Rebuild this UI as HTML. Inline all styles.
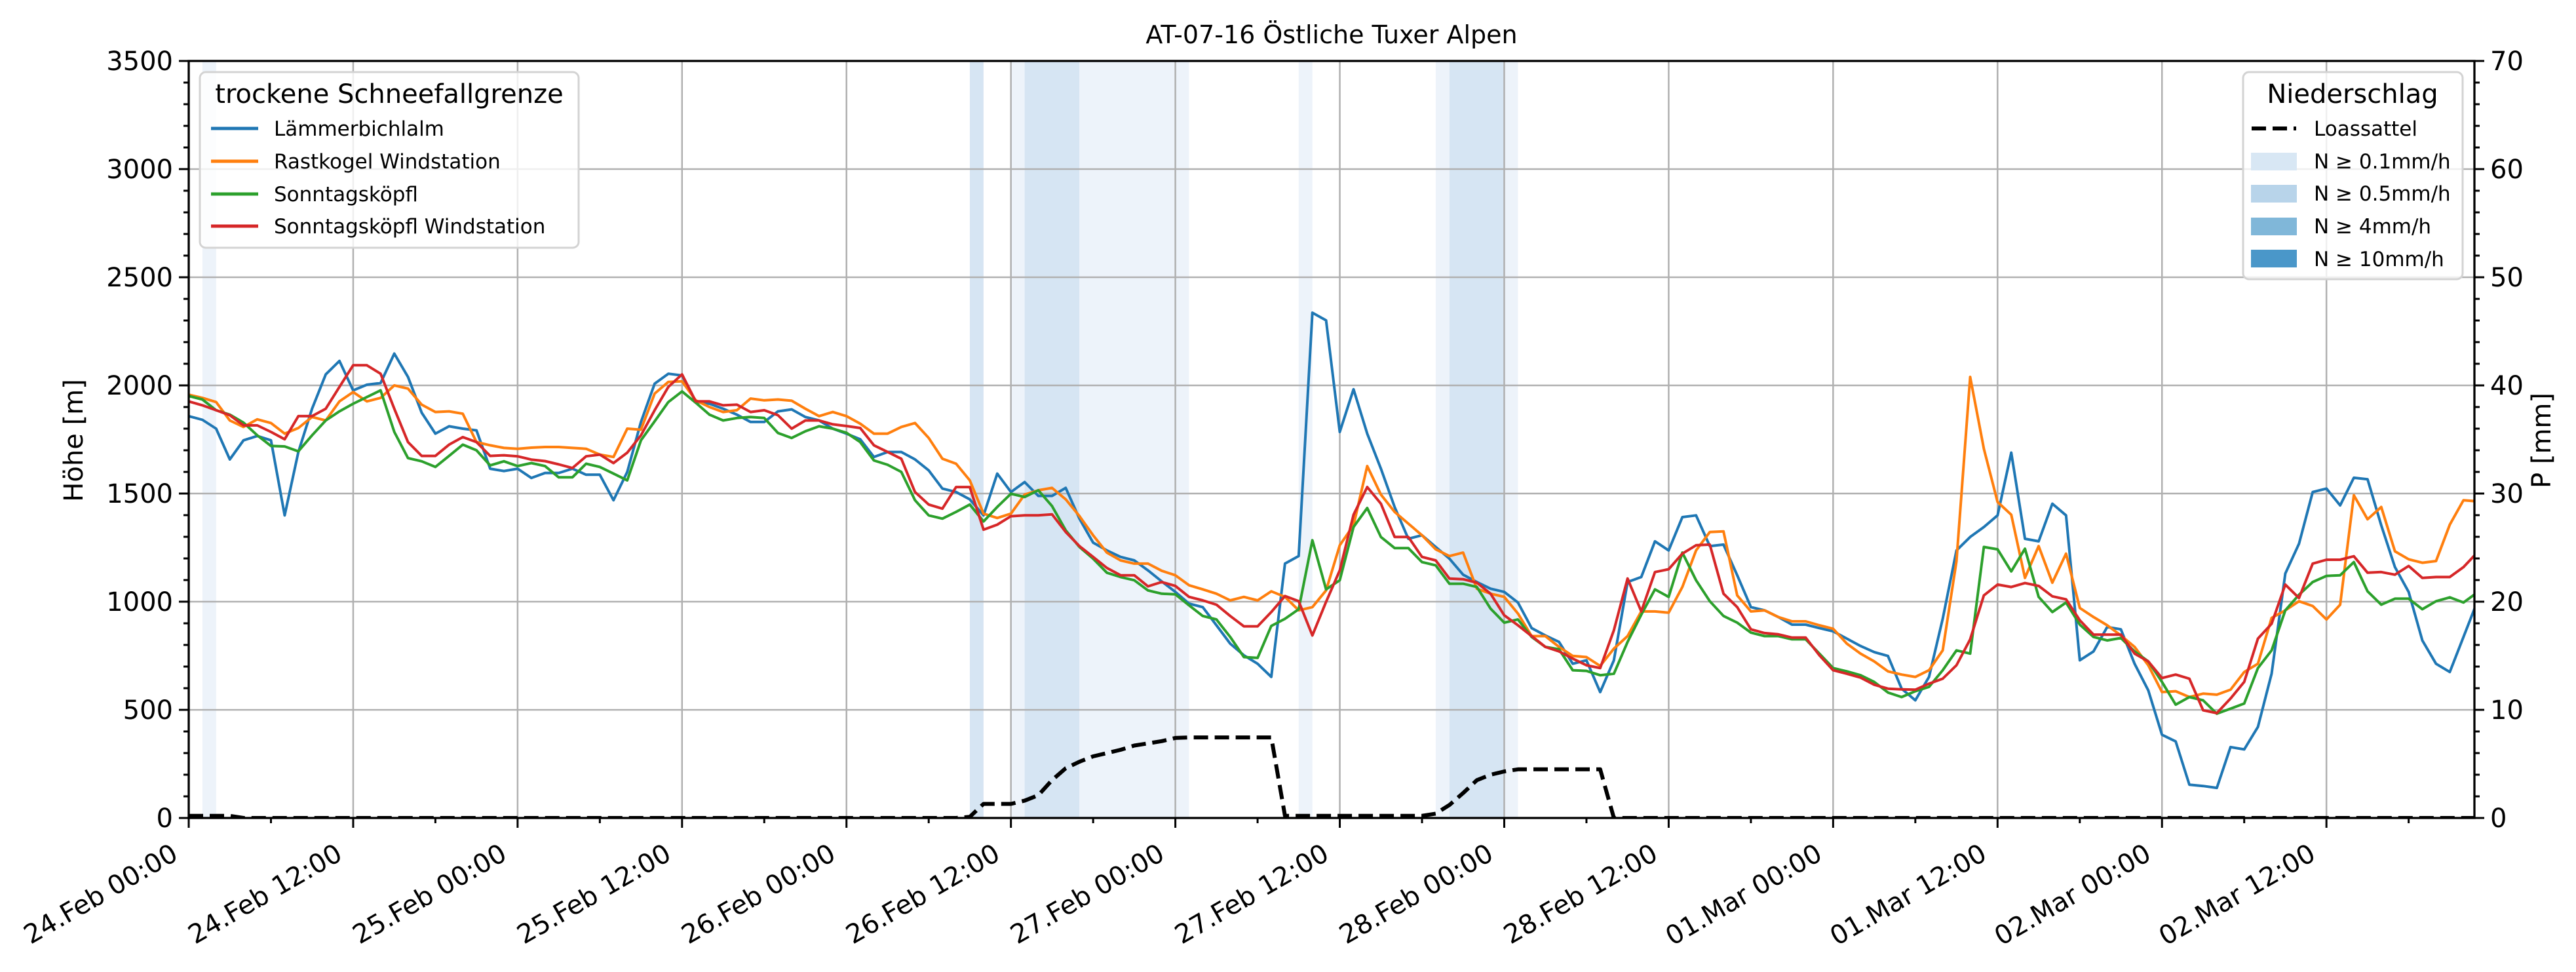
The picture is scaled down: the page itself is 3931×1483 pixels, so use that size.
<!DOCTYPE html>
<html><head><meta charset="utf-8"><style>
html,body{margin:0;padding:0;background:#fff;}
svg{display:block;font-family:"DejaVu Sans","Liberation Sans",sans-serif;}
</style></head><body>
<svg id="chart" width="3931" height="1483" viewBox="0 0 3931 1483" xmlns="http://www.w3.org/2000/svg">
<defs><clipPath id="plotclip"><rect x="288" y="93" width="3488" height="1155"/></clipPath></defs>
<rect width="3931" height="1483" fill="#fff"/>
<g id="bands"></g>
<g id="grid"></g>
<g id="series" clip-path="url(#plotclip)"></g>
<g id="axes"></g>
<text x="2032" y="66" text-anchor="middle" font-size="38">AT-07-16 Östliche Tuxer Alpen</text>
<text transform="translate(126,672) rotate(-90)" text-anchor="middle" font-size="40">Höhe [m]</text>
<text transform="translate(3892,672) rotate(-90)" text-anchor="middle" font-size="40">P [mm]</text>
<g>
<rect x="305" y="110" width="578" height="268" rx="9" fill="#fff" fill-opacity="0.8" stroke="#d3d3d3" stroke-width="3"/>
<text x="594" y="157" text-anchor="middle" font-size="40">trockene Schneefallgrenze</text>
<line x1="322" y1="196" x2="394" y2="196" stroke="#1f77b4" stroke-width="5"/>
<text x="418" y="207" font-size="31">Lämmerbichlalm</text>
<line x1="322" y1="246" x2="394" y2="246" stroke="#ff7f0e" stroke-width="5"/>
<text x="418" y="257" font-size="31">Rastkogel Windstation</text>
<line x1="322" y1="296" x2="394" y2="296" stroke="#2ca02c" stroke-width="5"/>
<text x="418" y="307" font-size="31">Sonntagsköpfl</text>
<line x1="322" y1="345" x2="394" y2="345" stroke="#d62728" stroke-width="5"/>
<text x="418" y="356" font-size="31">Sonntagsköpfl Windstation</text>
</g>
<g>
<rect x="3423" y="110" width="335" height="316" rx="9" fill="#fff" fill-opacity="0.8" stroke="#d3d3d3" stroke-width="3"/>
<text x="3590" y="157" text-anchor="middle" font-size="40">Niederschlag</text>
<line x1="3436" y1="196" x2="3504" y2="196" stroke="#000" stroke-width="6" stroke-dasharray="22,10"/>
<text x="3531" y="207" font-size="31">Loassattel</text>
<rect x="3435" y="233" width="70" height="27" fill="#d8e7f4"/>
<text x="3531" y="257" font-size="31">N ≥ 0.1mm/h</text>
<rect x="3435" y="282" width="70" height="27" fill="#b8d4ea"/>
<text x="3531" y="306" font-size="31">N ≥ 0.5mm/h</text>
<rect x="3435" y="332" width="70" height="27" fill="#80b7d9"/>
<text x="3531" y="356" font-size="31">N ≥ 4mm/h</text>
<rect x="3435" y="381" width="70" height="27" fill="#4a97c9"/>
<text x="3531" y="406" font-size="31">N ≥ 10mm/h</text>
</g>
</svg>
<script>
const lammer=[1858,1841,1800,1658,1746,1766,1746,1399,1692,1892,2051,2113,1977,2003,2011,2147,2039,1874,1777,1811,1800,1792,1615,1604,1615,1572,1595,1595,1615,1587,1587,1469,1600,1831,2008,2054,2046,1923,1915,1892,1865,1831,1831,1880,1889,1854,1838,1800,1777,1751,1669,1692,1692,1658,1607,1523,1507,1473,1399,1592,1507,1553,1489,1489,1526,1384,1273,1237,1207,1191,1145,1094,1045,991,975,891,806,752,713,652,1176,1211,2336,2301,1785,1982,1777,1615,1438,1291,1307,1253,1199,1125,1091,1060,1045,996,878,844,814,713,729,582,729,1091,1114,1279,1237,1391,1399,1257,1264,1122,975,960,929,894,894,878,863,829,795,767,749,598,544,652,921,1237,1299,1345,1399,1689,1291,1279,1453,1399,729,770,883,872,713,590,385,354,154,148,139,328,317,421,667,1130,1268,1507,1523,1445,1573,1566,1353,1160,1045,821,713,675,837,999];
const rastkogel=[1957,1942,1923,1838,1808,1843,1826,1777,1803,1854,1838,1926,1969,1926,1942,2000,1985,1911,1877,1880,1869,1738,1723,1711,1707,1712,1715,1715,1711,1707,1680,1669,1800,1795,1962,2016,2019,1931,1900,1877,1885,1939,1931,1935,1929,1892,1858,1877,1858,1823,1777,1777,1808,1826,1757,1661,1638,1561,1407,1387,1407,1495,1515,1526,1473,1396,1307,1227,1191,1176,1176,1143,1122,1076,1057,1037,1006,1022,1006,1048,1022,960,975,1052,1261,1353,1627,1495,1415,1361,1307,1242,1211,1227,1060,1037,1022,945,841,841,791,749,744,703,783,841,955,955,949,1068,1237,1322,1325,1029,955,960,929,909,909,891,875,806,760,724,678,663,652,683,775,1187,2039,1707,1461,1402,1110,1257,1088,1222,971,929,891,844,791,706,582,586,559,575,570,593,675,713,925,960,1002,980,918,986,1492,1381,1438,1233,1196,1180,1188,1356,1469,1464];
const sonntag=[1951,1935,1885,1865,1828,1769,1720,1718,1695,1769,1838,1880,1915,1946,1977,1785,1664,1649,1623,1674,1726,1700,1630,1649,1627,1641,1627,1575,1575,1638,1623,1592,1561,1746,1834,1923,1972,1920,1865,1838,1849,1854,1849,1780,1757,1788,1811,1800,1781,1738,1653,1633,1600,1469,1399,1384,1415,1449,1371,1438,1499,1484,1515,1442,1330,1253,1199,1134,1114,1099,1052,1037,1034,983,934,918,837,744,740,888,921,965,1284,1057,1099,1345,1433,1299,1248,1248,1183,1168,1083,1083,1068,968,903,918,837,791,780,683,680,660,667,814,940,1057,1022,1227,1099,1002,934,903,857,841,841,826,826,760,693,678,660,629,580,559,586,606,683,775,760,1253,1242,1140,1245,1022,952,996,894,837,821,832,770,724,629,524,559,544,482,505,529,693,775,960,1032,1091,1119,1122,1183,1048,986,1014,1014,965,1002,1020,996,1042];
const sonntagWind=[1926,1908,1885,1862,1815,1815,1785,1751,1858,1858,1892,1993,2093,2093,2054,1892,1738,1674,1674,1726,1761,1738,1674,1677,1672,1657,1650,1635,1618,1672,1680,1641,1689,1769,1885,1993,2051,1926,1926,1908,1911,1877,1885,1862,1800,1838,1838,1820,1812,1803,1723,1692,1661,1507,1449,1430,1530,1530,1333,1356,1395,1399,1399,1404,1322,1257,1207,1156,1122,1122,1071,1091,1073,1022,1006,986,934,886,886,952,1026,1002,844,999,1145,1402,1530,1453,1299,1299,1207,1191,1107,1104,1088,1037,937,891,841,791,770,737,706,693,868,1107,955,1137,1150,1222,1261,1264,1037,975,872,855,849,834,834,752,683,667,649,616,598,595,593,621,644,706,826,1029,1079,1068,1086,1073,1025,1011,914,848,848,848,760,724,647,663,644,498,485,552,629,829,898,1079,1017,1176,1194,1194,1210,1134,1137,1125,1165,1110,1114,1114,1160,1227];
const loassattel=[0.2,0.2,0.2,0.2,0,0,0,0,0,0,0,0,0,0,0,0,0,0,0,0,0,0,0,0,0,0,0,0,0,0,0,0,0,0,0,0,0,0,0,0,0,0,0,0,0,0,0,0,0,0,0,0,0,0,0,0,0,0.1,1.3,1.3,1.3,1.6,2.1,3.5,4.6,5.2,5.7,6.0,6.3,6.7,6.9,7.1,7.4,7.45,7.45,7.45,7.45,7.45,7.45,7.45,0.2,0.2,0.2,0.2,0.2,0.2,0.2,0.2,0.2,0.2,0.2,0.4,1.2,2.3,3.5,4.0,4.3,4.5,4.5,4.5,4.5,4.5,4.5,4.5,0,0,0,0,0,0,0,0,0,0,0,0,0,0,0,0,0,0,0,0,0,0,0,0,0,0,0,0,0,0,0,0,0,0,0,0,0,0,0,0,0,0,0,0,0,0,0,0,0,0,0,0,0,0,0,0,0,0,0,0,0,0,0,0,0,0,0,0,0];
const bandStart=[1,57,60,61,65,81,91,92,96];
const bandEnd=[2,58,61,65,73,82,92,96,97];
const bandLevel=[0,1,0,1,0,0,0,1,0];
const yTicks=[0,500,1000,1500,2000,2500,3000,3500];
const y2Ticks=[0,10,20,30,40,50,60,70];
const xTickHours=[0,12,24,36,48,60,72,84,96,108,120,132,144,156];
const xTickLabels=["24.Feb 00:00","24.Feb 12:00","25.Feb 00:00","25.Feb 12:00","26.Feb 00:00","26.Feb 12:00","27.Feb 00:00","27.Feb 12:00","28.Feb 00:00","28.Feb 12:00","01.Mar 00:00","01.Mar 12:00","02.Mar 00:00","02.Mar 12:00"];

const NS="http://www.w3.org/2000/svg";
const L=288,R=3776,T=93,B=1248,XMAX=166.8,YMAX=3500,PMAX=70;
const X=h=>L+h/XMAX*(R-L);
const Y=v=>B-v/YMAX*(B-T);
const P=p=>B-p/PMAX*(B-T);
function mk(tag,attrs,parent){const e=document.createElementNS(NS,tag);for(const k in attrs)e.setAttribute(k,attrs[k]);parent.appendChild(e);return e;}
const gB=document.getElementById('bands'),gG=document.getElementById('grid'),gS=document.getElementById('series'),gA=document.getElementById('axes');
const bandColors=["#edf3fa","#d6e5f3"];
bandStart.forEach((s,i)=>{
  const r=mk('rect',{x:X(s),y:T,width:X(bandEnd[i])-X(s),height:B-T,fill:bandColors[bandLevel[i]]},gB);
  
  
});
xTickHours.forEach(h=>{
  const l=mk('line',{x1:X(h),x2:X(h),y1:T,y2:B,stroke:"#b0b0b0","stroke-width":2.5},gG);
  
  
});
yTicks.forEach(v=>{
  const l=mk('line',{x1:L,x2:R,y1:Y(v),y2:Y(v),stroke:"#b0b0b0","stroke-width":2.5},gG);
  
  
});
function line(arr,fn,color,name,extra){
  const d=arr.map((v,i)=>(i?'L':'M')+X(i).toFixed(1)+','+fn(v).toFixed(1)).join('');
  const p=mk('path',Object.assign({d:d,fill:"none",stroke:color,"stroke-width":4,"stroke-linejoin":"round"},extra||{}),gS);
  
  
}
line(loassattel,P,"#000","loassattel-line",{"stroke-width":6,"stroke-dasharray":"22,10"});
line(lammer,Y,"#1f77b4","lammerbichlalm-line");
line(rastkogel,Y,"#ff7f0e","rastkogel-line");
line(sonntag,Y,"#2ca02c","sonntagskoepfl-line");
line(sonntagWind,Y,"#d62728","sonntagskoepfl-wind-line");
const fr=mk('rect',{x:L,y:T,width:R-L,height:B-T,fill:"none",stroke:"#000","stroke-width":3.3},gA);


for(let v=0;v<=YMAX;v+=100){const major=v%500===0;const t=mk('line',{x1:L,x2:L-(major?15:8),y1:Y(v),y2:Y(v),stroke:"#000","stroke-width":3},gA);

}
for(let p=0;p<=PMAX;p+=2){const major=p%10===0;const t=mk('line',{x1:R,x2:R+(major?15:8),y1:P(p),y2:P(p),stroke:"#000","stroke-width":3},gA);

}
for(let h=0;h<=XMAX;h+=6){const major=h%12===0;const t=mk('line',{x1:X(h),x2:X(h),y1:B,y2:B+(major?15:8),stroke:"#000","stroke-width":3},gA);

}
yTicks.forEach(v=>{const t=mk('text',{x:L-24,y:Y(v)+14,"text-anchor":"end","font-size":40},gA);t.textContent=v;

});
y2Ticks.forEach(p=>{const t=mk('text',{x:R+24,y:P(p)+14,"font-size":40},gA);t.textContent=p;

});
xTickHours.forEach((h,i)=>{const t=mk('text',{transform:`translate(${X(h)-14},1310) rotate(-30)`,"text-anchor":"end","font-size":40},gA);t.textContent=xTickLabels[i];

});
</script>
</body></html>
